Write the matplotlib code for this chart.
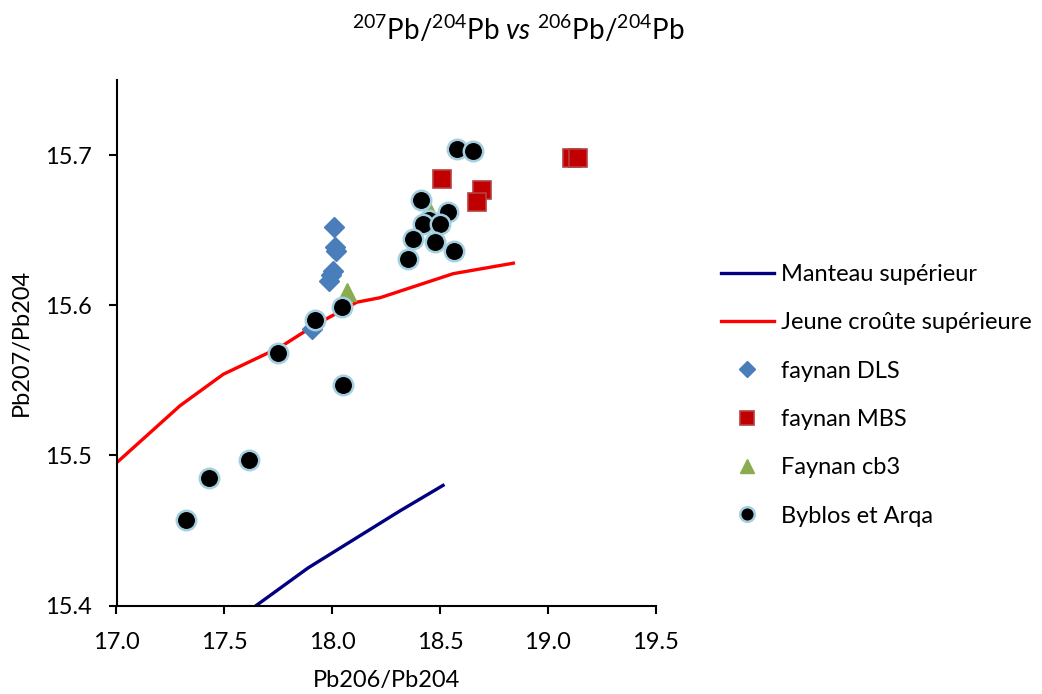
import matplotlib
matplotlib.use("Agg")
import matplotlib.pyplot as plt

plt.rcParams['font.family'] = ['Lato', 'DejaVu Sans']
plt.rcParams['mathtext.fontset'] = 'custom'
plt.rcParams['mathtext.rm'] = 'Lato'
plt.rcParams['mathtext.it'] = 'Lato:italic'

# ---- data ----
manteau_x = [17.60, 17.888, 18.314, 18.514]
manteau_y = [15.395, 15.425, 15.463, 15.480]

croute_x = [17.00, 17.294, 17.495, 17.758, 17.911, 18.114, 18.222, 18.561, 18.840]
croute_y = [15.495, 15.533, 15.554, 15.572, 15.586, 15.602, 15.605, 15.621, 15.628]

dls_x = [18.010, 18.012, 18.020, 18.005, 17.995, 17.987, 17.905]
dls_y = [15.652, 15.639, 15.636, 15.623, 15.620, 15.616, 15.584]

mbs_x = [18.508, 18.693, 18.670, 19.110, 19.141]
mbs_y = [15.684, 15.677, 15.669, 15.698, 15.698]

cb3_x = [18.070, 18.453]
cb3_y = [15.609, 15.662]

byb_x = [17.322, 17.430, 17.613, 17.747, 17.920, 18.044, 18.050,
         18.577, 18.653, 18.412, 18.538, 18.449, 18.422, 18.500,
         18.376, 18.477, 18.566, 18.351]
byb_y = [15.457, 15.485, 15.497, 15.568, 15.590, 15.599, 15.547,
         15.704, 15.703, 15.670, 15.662, 15.657, 15.654, 15.654,
         15.644, 15.642, 15.636, 15.631]

xticks = [17.0, 17.5, 18.0, 18.5, 19.0, 19.5]
yticks = [15.4, 15.5, 15.6, 15.7]

labels = ["Manteau supérieur", "Jeune croûte supérieure", "faynan DLS",
          "faynan MBS", "Faynan cb3", "Byblos et Arqa"]

# ---- figure ----
fig = plt.figure(figsize=(10.42, 6.94), dpi=100)
ax = fig.add_axes([116.5/1042, 1-605.5/694, (655.7-116.5)/1042, (605.5-80)/694])

ax.plot(manteau_x, manteau_y, color='#000080', lw=2.4, label=labels[0], zorder=2)
ax.plot(croute_x, croute_y, color='#ff0000', lw=2.4, label=labels[1], zorder=2)
ax.plot(dls_x, dls_y, ls='none', marker='D', ms=10.5, mfc='#4a7ebb', mec='#4a7ebb',
        label=labels[2], zorder=3)
ax.plot(mbs_x, mbs_y, ls='none', marker='s', ms=13.5, mfc='#c00000', mec='#b84040',
        mew=1.2, label=labels[3], zorder=4)
ax.plot(cb3_x, cb3_y, ls='none', marker='^', ms=13.5, mfc='#8aac50', mec='#8aac50',
        label=labels[4], zorder=5)
ax.plot(byb_x, byb_y, ls='none', marker='o', ms=14, mfc='black', mec='#a3cfe0',
        mew=1.8, label=labels[5], zorder=6)

ax.set_xlim(17.0, 19.5)
ax.set_ylim(15.4, 15.75)
ax.set_xticks(xticks)
ax.set_yticks(yticks)
ax.set_xticklabels([f"{v:.1f}" for v in xticks])
ax.set_yticklabels([f"{v:.1f}" for v in yticks])
for s in ['top', 'right']:
    ax.spines[s].set_visible(False)
for s in ['left', 'bottom']:
    ax.spines[s].set_linewidth(1.5)
    ax.spines[s].set_color('black')
ax.tick_params(direction='out', length=6, width=1.5, labelsize=17, colors='black')
ax.tick_params(axis='x', pad=13)
ax.tick_params(axis='y', pad=12)

ax.set_xlabel("Pb206/Pb204", fontsize=17, labelpad=12)
ax.set_ylabel("Pb207/Pb204", fontsize=17, labelpad=9)

fig.text(518/1042, 1-29/694,
         r"$^{207}$Pb/$^{204}$Pb $\mathit{vs}$ $^{206}$Pb/$^{204}$Pb",
         ha='center', va='center', fontsize=20)

leg = ax.legend(loc='upper left', bbox_to_anchor=(709/1042, 1-252/694),
                bbox_transform=fig.transFigure, frameon=False, fontsize=17,
                handlelength=2.25, handletextpad=0.3, labelspacing=1.16,
                borderpad=0, markerscale=0.75)

fig.savefig("out.png", dpi=100)
